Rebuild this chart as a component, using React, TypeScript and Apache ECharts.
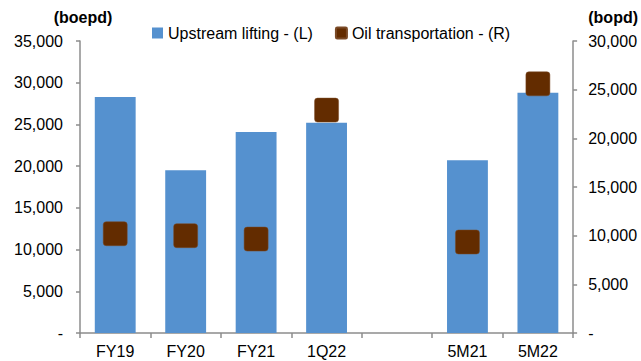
import React, { useEffect, useRef } from "react";
import * as echarts from "echarts";

const categories = ["FY19", "FY20", "FY21", "1Q22", "", "5M21", "5M22"];
const upstreamLifting = [28300, 19500, 24100, 25200, null, 20700, 28800];
const oilTransportation = [10200, 10000, 9650, 22900, null, 9350, 25600];
const leftTicks = { min: 0, max: 35000, interval: 5000 };
const rightTicks = { min: 0, max: 30000, interval: 5000 };

const FONT = "'Liberation Sans', Arial, sans-serif";
const AXIS_GREY = "#8c8c8c";
const BAR_BLUE = "#5591cf";
const MARKER_BROWN = "#632c00";
// square with slightly rounded corners
const ROUNDED_SQUARE = "path://M3,0 H21 Q24,0 24,3 V21 Q24,24 21,24 H3 Q0,24 0,21 V3 Q0,0 3,0 Z";

const fmt = (v: number) => (v === 0 ? "-" : v.toLocaleString("en-US"));

export default function App() {
  const ref = useRef<HTMLDivElement>(null);

  useEffect(() => {
    if (!ref.current) return;
    const chart = echarts.init(ref.current, undefined, { renderer: "svg" });
    chart.setOption({
      animation: false,
      backgroundColor: "#ffffff",
      textStyle: { fontFamily: FONT },
      grid: { left: 80, right: 66, top: 41, bottom: 28, containLabel: false },
      legend: {
        top: 20,
        left: 147,
        itemGap: 22,
        itemWidth: 11,
        itemHeight: 11,
        textStyle: { fontFamily: FONT, fontSize: 16, color: "#000" },
        data: [
          { name: "Upstream lifting - (L)", icon: "rect", itemStyle: { color: BAR_BLUE } },
          { name: "Oil transportation - (R)", icon: ROUNDED_SQUARE, itemStyle: { color: MARKER_BROWN } },
        ],
      },
      xAxis: {
        type: "category",
        data: categories,
        boundaryGap: true,
        axisLine: { lineStyle: { color: AXIS_GREY, width: 1.5 } },
        axisTick: { show: true, length: 5, alignWithLabel: false, lineStyle: { color: AXIS_GREY, width: 1.5 } },
        axisLabel: { fontFamily: FONT, fontSize: 16, color: "#000", margin: 10 },
      },
      yAxis: [
        {
          type: "value",
          ...leftTicks,
          position: "left",
          name: "(boepd)",
          nameLocation: "end",
          nameGap: 16,
          nameTextStyle: { fontFamily: FONT, fontSize: 16, fontWeight: "bold", color: "#000", align: "center", padding: [0, 0, 0, 6] },
          splitLine: { show: false },
          axisLine: { show: true, lineStyle: { color: AXIS_GREY, width: 1.5 } },
          axisTick: { show: true, length: 4, lineStyle: { color: AXIS_GREY, width: 1.5 } },
          axisLabel: { fontFamily: FONT, fontSize: 16, color: "#000", margin: 17, formatter: fmt },
        },
        {
          type: "value",
          ...rightTicks,
          position: "right",
          name: "(bopd)",
          nameLocation: "end",
          nameGap: 16,
          nameTextStyle: { fontFamily: FONT, fontSize: 16, fontWeight: "bold", color: "#000", align: "center", padding: [0, 0, 0, 80] },
          splitLine: { show: false },
          axisLine: { show: true, lineStyle: { color: AXIS_GREY, width: 1.5 } },
          axisTick: { show: true, length: 4, lineStyle: { color: AXIS_GREY, width: 1.5 } },
          axisLabel: { fontFamily: FONT, fontSize: 16, color: "#000", margin: 15, formatter: fmt },
        },
      ],
      series: [
        {
          name: "Upstream lifting - (L)",
          type: "bar",
          yAxisIndex: 0,
          data: upstreamLifting,
          barWidth: "58%",
          itemStyle: { color: BAR_BLUE },
        },
        {
          name: "Oil transportation - (R)",
          type: "scatter",
          yAxisIndex: 1,
          data: oilTransportation,
          symbol: ROUNDED_SQUARE,
          symbolSize: 24,
          itemStyle: { color: MARKER_BROWN, opacity: 1, borderColor: "#7a4a26", borderWidth: 0.5 },
          z: 3,
        },
      ],
    });
    return () => chart.dispose();
  }, []);

  return <div ref={ref} style={{ width: 641, height: 361, position: "absolute", left: 0, top: 0 }} />;
}
